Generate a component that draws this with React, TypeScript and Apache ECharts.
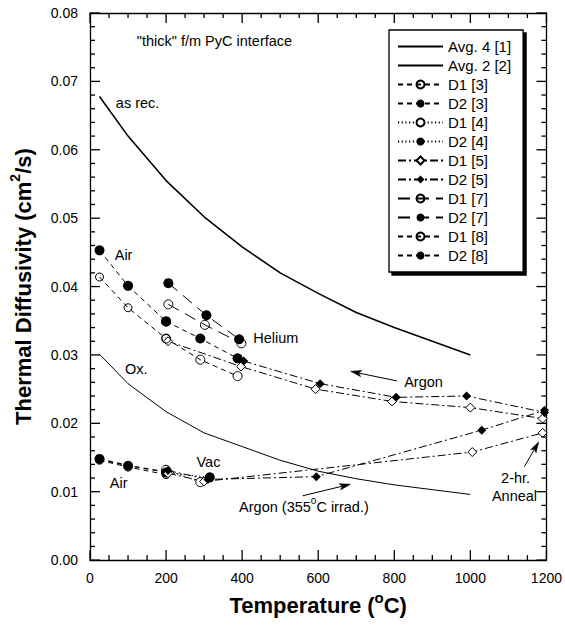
import React, { useEffect, useRef } from 'react';
import * as echarts from 'echarts';

const FONT = 'Liberation Sans, Arial, Helvetica, sans-serif';

// Axis ticks
const xMajorTicks = [0, 200, 400, 600, 800, 1000, 1200];
const xMinorStep = 50;
const yMajorTicks = [0, 0.01, 0.02, 0.03, 0.04, 0.05, 0.06, 0.07, 0.08];
const yMinorStep = 0.002;

// Averaged curves
const avgTemps = [25, 100, 200, 300, 400, 500, 600, 700, 800, 900, 1000];
const avg4 = [0.0678, 0.0620, 0.0555, 0.0502, 0.0458, 0.0420, 0.0390, 0.0362, 0.0340, 0.0320, 0.0300];
const avg2 = [0.0301, 0.0258, 0.0217, 0.0186, 0.0166, 0.0146, 0.0130, 0.0119, 0.0110, 0.0103, 0.0096];

// Ref [3]
const d1_3_upper = [[25, 0.0414], [100, 0.0369], [200, 0.0324]];
const d1_3_lower = [[25, 0.0146], [100, 0.0136], [200, 0.0125]];
const d2_3_upper = [[25, 0.0453], [100, 0.0401], [200, 0.0349]];
const d2_3_lower = [[25, 0.0148], [100, 0.0138], [200, 0.0129]];
// Ref [4] (Vac)
const d1_4 = [[200, 0.0132], [290, 0.0114]];
const d2_4 = [[200, 0.0128], [315, 0.0121]];
// Ref [5] (Argon)
const d1_5_upper = [[205, 0.0320], [397, 0.0283], [593, 0.0250], [794, 0.0232], [1000, 0.0223], [1190, 0.0207]];
const d1_5_lower = [[205, 0.0127], [300, 0.0115], [1005, 0.0158], [1190, 0.0186]];
const d2_5_upper = [[404, 0.0291], [605, 0.0258], [805, 0.0238], [990, 0.0240], [1195, 0.0216]];
const d2_5_lower = [[205, 0.0131], [310, 0.0118], [595, 0.0122], [1030, 0.0190], [1195, 0.0219]];
// Ref [7] (Helium)
const d1_7 = [[206, 0.0374], [302, 0.0344], [398, 0.0317]];
const d2_7 = [[206, 0.0405], [306, 0.0358], [392, 0.0323]];
// Ref [8]
const d1_8 = [[200, 0.0324], [290, 0.0293], [388, 0.0269]];
const d2_8 = [[200, 0.0349], [290, 0.0324], [388, 0.0295]];

const legendNames = ['Avg. 4 [1]', 'Avg. 2 [2]', 'D1 [3]', 'D2 [3]', 'D1 [4]', 'D2 [4]', 'D1 [5]', 'D2 [5]', 'D1 [7]', 'D2 [7]', 'D1 [8]', 'D2 [8]'];

// Annotations (data coordinates)
const labels = [
  { text: '"thick" f/m PyC interface', at: [123, 0.0759], align: 'left' },
  { text: 'as rec.', at: [68, 0.0668], align: 'left' },
  { text: 'Air', at: [65, 0.0446], align: 'left' },
  { text: 'Helium', at: [429, 0.0325], align: 'left' },
  { text: 'Ox.', at: [92, 0.0280], align: 'left' },
  { text: 'Argon', at: [826, 0.0261], align: 'left' },
  { text: 'Vac', at: [280, 0.01435], align: 'left' },
  { text: 'Air', at: [52, 0.0113], align: 'left' },
  { text: 'Argon (355{s|o}C irrad.)', at: [392, 0.0078], align: 'left' },
  { text: '2-hr.', at: [1119, 0.0120], align: 'center' },
  { text: 'Anneal', at: [1116, 0.0093], align: 'center' },
];
const arrows = [
  { from: [807, 0.0262], to: [685, 0.0276] },
  { from: [559, 0.0094], to: [685, 0.0111] },
  { from: [1142, 0.01367], to: [1180, 0.0173] },
];

const openHollow = { color: 'rgba(0,0,0,0)', borderColor: '#000', borderWidth: 1 };
const openWhite = { color: '#fff', borderColor: '#000', borderWidth: 1 };
const filled = { color: '#000', borderColor: '#000', borderWidth: 0 };

function mk(name: string, data: any, dash: any, symbol: string, size: number, item: any, width = 1) {
  return {
    type: 'line',
    name,
    data,
    xAxisIndex: 0,
    yAxisIndex: 0,
    symbol,
    symbolSize: size,
    showSymbol: symbol !== 'none',
    itemStyle: item,
    lineStyle: { color: '#000', width, type: dash },
    silent: true,
    emphasis: { disabled: true },
    z: 3,
  };
}

export default function App() {
  const ref = useRef<HTMLDivElement>(null);
  useEffect(() => {
    const chart = echarts.init(ref.current!, null, { renderer: 'svg' });
    const dash3 = [5, 4];
    const dot4 = [1.2, 2.5];
    const dashdot5 = [8, 3, 2, 3];
    const long7 = [12, 7];
    const dash8 = [5, 4];

    const avg4Data = avgTemps.map((t, i) => [t, avg4[i]]);
    const avg2Data = avgTemps.map((t, i) => [t, avg2[i]]);

    const series = [
      mk('Avg. 4 [1]', avg4Data, 'solid', 'none', 0, filled, 1.6),
      mk('Avg. 2 [2]', avg2Data, 'solid', 'none', 0, filled, 1),
      mk('D1 [3]', d1_3_upper, dash3, 'circle', 8, openHollow),
      mk('D1 [3]', d1_3_lower, dash3, 'circle', 8, openHollow),
      mk('D2 [3]', d2_3_upper, dash3, 'circle', 10, filled),
      mk('D2 [3]', d2_3_lower, dash3, 'circle', 10, filled, 1.5),
      mk('D1 [4]', d1_4, dot4, 'circle', 9, openWhite),
      mk('D2 [4]', d2_4, dot4, 'circle', 10, filled),
      mk('D1 [5]', d1_5_upper, dashdot5, 'diamond', 9, openWhite),
      mk('D1 [5]', d1_5_lower, dashdot5, 'diamond', 9, openWhite),
      mk('D2 [5]', d2_5_upper, dashdot5, 'diamond', 9, filled),
      mk('D2 [5]', d2_5_lower, dashdot5, 'diamond', 9, filled),
      mk('D1 [7]', d1_7, long7, 'circle', 9, openHollow),
      mk('D2 [7]', d2_7, long7, 'circle', 10, filled),
      mk('D1 [8]', d1_8, dash8, 'circle', 9, openHollow),
      mk('D2 [8]', d2_8, dash8, 'circle', 10, filled),
    ];

    const base = {
      type: 'value',
      axisLine: { show: true, onZero: false, lineStyle: { color: '#000', width: 1.3 } },
      axisTick: { show: false },
      minorTick: { show: false },
      splitLine: { show: false },
      minorSplitLine: { show: false },
    };

    chart.setOption({
      animation: false,
      backgroundColor: '#fff',
      grid: { left: 88, right: 18, top: 13, bottom: 59, containLabel: false },
      xAxis: [
        {
          ...base,
          position: 'bottom',
          min: 0, max: 1200, interval: 200,
          axisLabel: { color: '#000', fontSize: 14, fontFamily: FONT, margin: 11, formatter: (v: number) => String(v) },
          name: 'Temperature ({sup|o}C)',
          nameLocation: 'middle',
          nameGap: 18,
          nameTextStyle: {
            color: '#000', fontSize: 22, fontWeight: 'bold', fontFamily: FONT, lineHeight: 30,
            rich: { sup: { fontSize: 15, fontWeight: 'bold', fontFamily: FONT, color: '#000', verticalAlign: 'top' } },
          },
        },
        {
          ...base,
          position: 'top',
          min: 0, max: 1200, interval: 200,
          axisLabel: { show: false },
        },
      ],
      yAxis: [
        {
          ...base,
          position: 'left',
          min: 0, max: 0.08, interval: 0.01,
          axisLabel: { color: '#000', fontSize: 14, fontFamily: FONT, margin: 12, formatter: (v: number) => v.toFixed(2) },
          name: 'Thermal Diffusivity (cm{sup|2}/s)',
          nameLocation: 'middle',
          nameGap: 52,
          nameTextStyle: {
            color: '#000', fontSize: 22, fontWeight: 'bold', fontFamily: FONT, lineHeight: 30,
            rich: { sup: { fontSize: 14, fontWeight: 'bold', fontFamily: FONT, color: '#000', verticalAlign: 'top' } },
          },
        },
        {
          ...base,
          position: 'right',
          min: 0, max: 0.08, interval: 0.01,
          axisLabel: { show: false },
        },
      ],
      legend: {
        show: true,
        data: legendNames.map((n, i) => (i < 2 ? { name: n, itemStyle: { color: 'rgba(0,0,0,0)', borderWidth: 0, opacity: 0 } } : n)),
        orient: 'vertical',
        left: 389,
        top: 30,
        selectedMode: false,
        itemWidth: 45,
        itemHeight: 10,
        itemGap: 4,
        padding: [9, 12, 9, 8],
        backgroundColor: '#fff',
        borderColor: '#000',
        borderWidth: 1.3,
        borderRadius: 0,
        shadowColor: '#000',
        shadowBlur: 0,
        shadowOffsetX: 3,
        shadowOffsetY: 3,
        textStyle: { color: '#000', fontSize: 15, fontFamily: FONT },
        z: 10,
      },
      series,
    });

    const px = (p: number[]) => chart.convertToPixel({ xAxisIndex: 0, yAxisIndex: 0 }, p) as number[];
    const graphics: any[] = [];

    // Inside ticks on all four sides, positioned from axis values
    const [xL, yB] = px([0, 0]);
    const [xR, yT] = px([1200, 0.08]);
    const MAJ = 10, MIN = 5, TW = 1.3;
    const addTick = (x1: number, y1: number, x2: number, y2: number) => {
      const vertical = Math.abs(x2 - x1) < 0.01;
      graphics.push({
        type: 'rect', silent: true, z: 50,
        shape: vertical
          ? { x: x1 - TW / 2, y: Math.min(y1, y2), width: TW, height: Math.abs(y2 - y1) }
          : { x: Math.min(x1, x2), y: y1 - TW / 2, width: Math.abs(x2 - x1), height: TW },
        style: { fill: '#000' },
      });
    };
    const xMin = xMajorTicks[0], xMax = xMajorTicks[xMajorTicks.length - 1];
    for (let v = xMin; v <= xMax + 1e-9; v += xMinorStep) {
      const isMajor = xMajorTicks.some((m) => Math.abs(m - v) < 1e-6);
      const L = isMajor ? MAJ : MIN;
      const x = px([v, 0])[0];
      addTick(x, yB, x, yB - L);
      addTick(x, yT, x, yT + L);
    }
    const yMin = yMajorTicks[0], yMax = yMajorTicks[yMajorTicks.length - 1];
    const nMinor = Math.round((yMax - yMin) / yMinorStep);
    for (let i = 0; i <= nMinor; i++) {
      const v = yMin + i * yMinorStep;
      const isMajor = yMajorTicks.some((m) => Math.abs(m - v) < 1e-9);
      const L = isMajor ? MAJ : MIN;
      const y = px([0, v])[1];
      addTick(xL, y, xL + L, y);
      addTick(xR, y, xR - L, y);
    }

    labels.forEach((l) => {
      const [x, y] = px(l.at);
      graphics.push({
        type: 'text',
        x, y,
        silent: true,
        z: 20,
        style: {
          text: l.text,
          fill: '#000',
          fontSize: 14.5,
          fontFamily: FONT,
          lineHeight: 22,
          align: l.align,
          verticalAlign: 'middle',
          textAlign: l.align,
          textVerticalAlign: 'middle',
          rich: { s: { fontSize: 10, fontFamily: FONT, fill: '#000', verticalAlign: 'top' } },
        },
      });
    });
    arrows.forEach((a) => {
      const [x1, y1] = px(a.from);
      const [x2, y2] = px(a.to);
      const dx = x2 - x1, dy = y2 - y1;
      const len = Math.sqrt(dx * dx + dy * dy);
      const ux = dx / len, uy = dy / len;
      const hl = 11, hw = 3.2;
      const bx = x2 - ux * hl, by = y2 - uy * hl;
      graphics.push({
        type: 'line', silent: true, z: 20,
        shape: { x1, y1, x2: bx + ux * 2, y2: by + uy * 2 },
        style: { stroke: '#000', lineWidth: 1 },
      });
      graphics.push({
        type: 'polygon', silent: true, z: 20,
        shape: { points: [[x2, y2], [bx - uy * hw, by + ux * hw], [bx + ux * 2.5, by + uy * 2.5], [bx + uy * hw, by - ux * hw]] },
        style: { fill: '#000', stroke: '#000', lineWidth: 0.5 },
      });
    });
    chart.setOption({ graphic: graphics });

    return () => chart.dispose();
  }, []);
  return <div ref={ref} style={{ position: 'fixed', left: 0, top: 0, width: 565, height: 625 }} />;
}
